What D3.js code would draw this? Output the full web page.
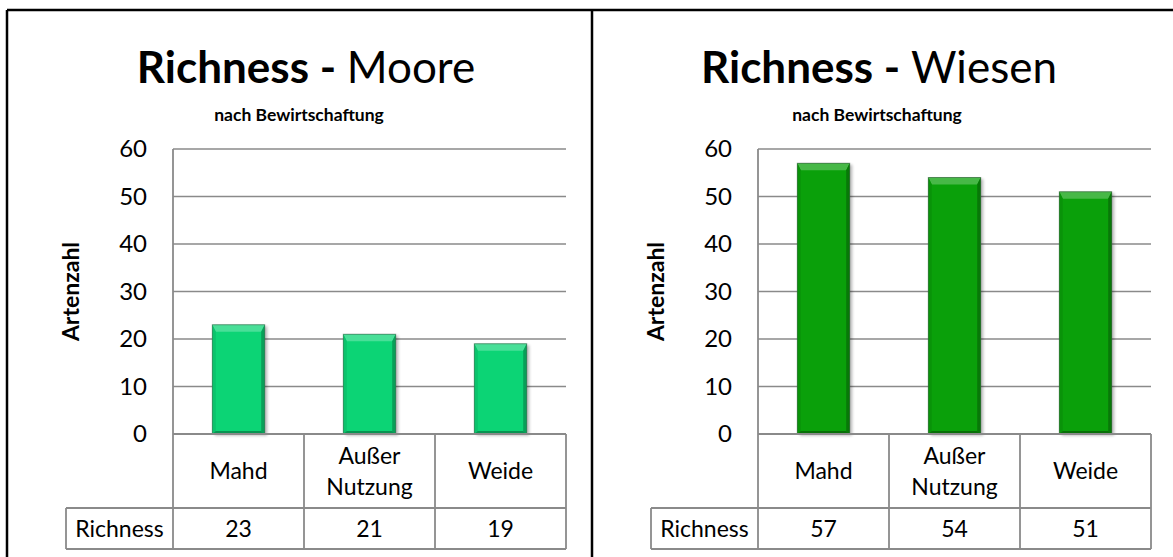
<!DOCTYPE html>
<html>
<head>
<meta charset="utf-8">
<script src="https://cdn.jsdelivr.net/npm/d3@7"></script>
<style>
  html, body { margin: 0; padding: 0; background: #fff; }
  svg { display: block; }
  text { font-family: Lato, "Open Sans", sans-serif; fill: #000; }
</style>
</head>
<body>
<svg id="chart" width="1173" height="557"></svg>
<script>
// Species richness per management type
const categories = ["Mahd", "Außer\nNutzung", "Weide"];
const rowLabel = "Richness";
const mooreValues = [23, 21, 19];
const wiesenValues = [57, 54, 51];
const yTicks = [0, 10, 20, 30, 40, 50, 60];
const titles = ["Moore", "Wiesen"];
const subtitle = "nach Bewirtschaftung";
const axisTitle = "Artenzahl";
const barColors = ["#0cd475", "#0aa00a"];

const svg = d3.select("#chart");

// Drop shadow used under each bar
const defs = svg.append("defs");
const flt = defs.append("filter").attr("id", "barShadow")
  .attr("x", "-30%").attr("y", "-30%").attr("width", "160%").attr("height", "160%");
flt.append("feGaussianBlur").attr("stdDeviation", 1.8);

// Outer frame of the two chart boxes
const frame = svg.append("g").attr("stroke", "#000").attr("stroke-width", 2.5).attr("fill", "none");
frame.append("line").attr("x1", 7).attr("x2", 1173).attr("y1", 10).attr("y2", 10);
frame.append("line").attr("x1", 7).attr("x2", 7).attr("y1", 10).attr("y2", 557);
frame.append("line").attr("x1", 592).attr("x2", 592).attr("y1", 10).attr("y2", 557);

const panels = [
  { dx: 0, name: titles[0], values: mooreValues, color: barColors[0], titleX: 306, subX: 299 },
  { dx: 585, name: titles[1], values: wiesenValues, color: barColors[1], titleX: 879, subX: 877 }
];

const plot = { x0: 173, x1: 566, yTop: 149, yZero: 434, row1: 508, row2: 549, labelX: 66 };
const gridColor = "#8a8a8a";

function drawBar(g, x, y, w, h, base) {
  const lighter = d3.interpolateRgb(base, "#ffffff")(0.25);
  const rightC = d3.interpolateRgb(base, "#000000")(0.25);
  const leftC = d3.interpolateRgb(base, "#000000")(0.08);
  const bottomC = d3.interpolateRgb(base, "#000000")(0.3);
  const bt = Math.min(7, h / 2), bs = 3.5, bb = 3;

  g.append("rect").attr("x", x + 2.5).attr("y", y + 1.5).attr("width", w).attr("height", h)
    .attr("fill", "#000").attr("opacity", 0.28).attr("filter", "url(#barShadow)");
  g.append("rect").attr("x", x).attr("y", y).attr("width", w).attr("height", h).attr("fill", base);
  const poly = (pts, fill) => g.append("polygon")
    .attr("points", pts.map(p => p.join(",")).join(" ")).attr("fill", fill);
  poly([[x, y], [x + w, y], [x + w - bs, y + bt], [x + bs, y + bt]], lighter);
  poly([[x, y], [x + bs, y + bt], [x + bs, y + h - bb], [x, y + h]], leftC);
  poly([[x + w, y], [x + w, y + h], [x + w - bs, y + h - bb], [x + w - bs, y + bt]], rightC);
  poly([[x, y + h], [x + bs, y + h - bb], [x + w - bs, y + h - bb], [x + w, y + h]], bottomC);
  g.append("rect").attr("x", x).attr("y", y).attr("width", w).attr("height", h)
    .attr("fill", "none").attr("stroke", "#3c5a46").attr("stroke-opacity", 0.55).attr("stroke-width", 1);
}

panels.forEach(p => {
  const g = svg.append("g").attr("transform", `translate(${p.dx},0)`);
  const tg = svg.append("g");

  // Title and subtitle
  const t = tg.append("text").attr("x", p.titleX).attr("y", 83)
    .attr("text-anchor", "middle").attr("font-size", 44);
  t.append("tspan").attr("font-weight", "bold").text("Richness - ");
  t.append("tspan").text(p.name);
  tg.append("text").attr("x", p.subX).attr("y", 121).attr("text-anchor", "middle")
    .attr("font-size", 17.5).attr("font-weight", "bold").text(subtitle);

  const x = d3.scaleBand().domain(categories).range([plot.x0, plot.x1]).padding(0);
  const y = d3.scaleLinear().domain([0, 60]).range([plot.yZero, plot.yTop]);

  // Gridlines
  g.append("g").selectAll("line").data(yTicks).join("line")
    .attr("x1", plot.x0).attr("x2", plot.x1)
    .attr("y1", d => y(d)).attr("y2", d => y(d))
    .attr("stroke", gridColor).attr("stroke-width", 1.4);

  // Y axis labels
  const ax = g.append("g").attr("transform", `translate(${plot.x0 - 26},0)`)
    .call(d3.axisLeft(y).tickValues(yTicks).tickSize(0).tickPadding(0));
  ax.select(".domain").remove();
  ax.selectAll("text").attr("font-family", "Lato, sans-serif").attr("font-size", 24).attr("fill", "#000");

  // Axis title
  g.append("text").attr("transform", `translate(79,${(plot.yTop + plot.yZero) / 2}) rotate(-90)`)
    .attr("text-anchor", "middle").attr("font-size", 23).attr("font-weight", "bold").text(axisTitle);

  // Bars
  const bw = x.bandwidth() * 0.4;
  const bars = g.append("g");
  categories.forEach((c, i) => {
    const v = p.values[i];
    const bx = x(c) + (x.bandwidth() - bw) / 2;
    drawBar(bars, bx, y(v), bw, y(0) - y(v), p.color);
  });

  // Data table below the plot
  const tb = g.append("g").attr("stroke", gridColor).attr("stroke-width", 1.8).attr("fill", "none");
  tb.append("line").attr("x1", plot.x0).attr("x2", plot.x0).attr("y1", plot.yTop).attr("y2", plot.row2);
  categories.map(c => x(c) + x.bandwidth()).forEach(xx =>
    tb.append("line").attr("x1", xx).attr("x2", xx).attr("y1", plot.yZero).attr("y2", plot.row2));
  tb.append("line").attr("x1", plot.x0).attr("x2", plot.x1).attr("y1", plot.yZero).attr("y2", plot.yZero);
  tb.append("line").attr("x1", plot.labelX).attr("x2", plot.x1).attr("y1", plot.row1).attr("y2", plot.row1);
  tb.append("line").attr("x1", plot.labelX).attr("x2", plot.x1).attr("y1", plot.row2).attr("y2", plot.row2);
  tb.append("line").attr("x1", plot.labelX).attr("x2", plot.labelX).attr("y1", plot.row1).attr("y2", plot.row2);

  // Category labels
  const lineH = 31;
  categories.forEach(c => {
    const lines = c.split("\n");
    const cy = (plot.yZero + plot.row1) / 2;
    const txt = g.append("text").attr("text-anchor", "middle").attr("font-size", 23);
    lines.forEach((ln, k) => {
      txt.append("tspan").attr("x", x(c) + x.bandwidth() / 2)
        .attr("y", cy + (k - (lines.length - 1) / 2) * lineH)
        .attr("dy", "0.35em").text(ln);
    });
  });

  // Value row
  const ry = (plot.row1 + plot.row2) / 2;
  g.append("text").attr("x", (plot.labelX + plot.x0) / 2).attr("y", ry).attr("dy", "0.35em")
    .attr("text-anchor", "middle").attr("font-size", 23).text(rowLabel);
  categories.forEach((c, i) => {
    g.append("text").attr("x", x(c) + x.bandwidth() / 2).attr("y", ry).attr("dy", "0.35em")
      .attr("text-anchor", "middle").attr("font-size", 23).text(p.values[i]);
  });
});
</script>
</body>
</html>
